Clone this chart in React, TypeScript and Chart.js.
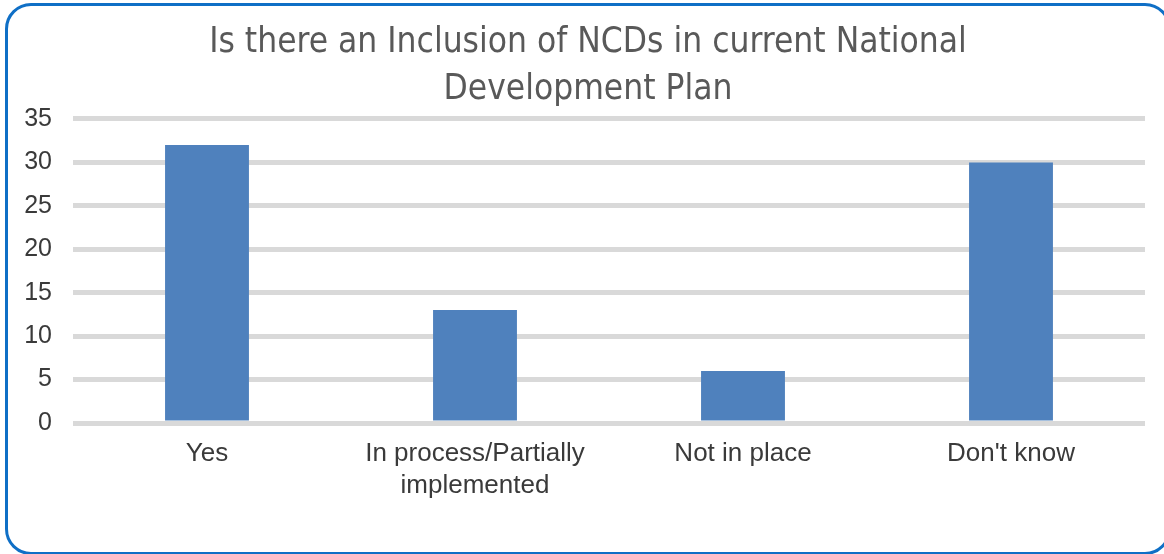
import React, { useEffect, useRef } from "react";
import { Chart, registerables } from "chart.js";

Chart.register(...registerables);

const titleLines = ["Is there an Inclusion of NCDs in current National", "Development Plan"];
const categories: (string | string[])[] = ["Yes", ["In process/Partially", "implemented"], "Not in place", "Don't know"];
const counts = [32, 13, 6, 30];
const yMin = 0;
const yMax = 35;
const yStep = 5;

export default function App() {
  const canvasRef = useRef<HTMLCanvasElement | null>(null);

  useEffect(() => {
    if (!canvasRef.current) return;
    const chart = new Chart(canvasRef.current, {
      type: "bar",
      data: {
        labels: categories,
        datasets: [
          {
            data: counts,
            backgroundColor: "#4F81BD",
            borderWidth: 0,
            categoryPercentage: 1,
            barPercentage: 0.313,
          },
        ],
      },
      options: {
        responsive: false,
        animation: false,
        devicePixelRatio: 1,
        layout: { padding: { left: 0, right: 24, top: 0, bottom: 0 } },
        plugins: {
          legend: { display: false },
          tooltip: { enabled: false },
          title: {
            display: true,
            text: titleLines,
            color: "#595959",
            font: { family: "'Liberation Sans Narrow', 'DejaVu Sans Condensed', Roboto, sans-serif", size: 35, weight: "normal", lineHeight: 47 / 35 },
            padding: { top: 19, bottom: 6 },
          },
        },
        scales: {
          x: {
            grid: { display: false, drawTicks: false },
            border: { display: false },
            ticks: {
              color: "#3a3a3a",
              font: { family: "'Liberation Sans', Arial, sans-serif", size: 26, lineHeight: 32 / 26 },
              padding: 15,
              maxRotation: 0,
              autoSkip: false,
            },
            afterFit: (scale: any) => {
              scale.height = 131;
            },
          },
          y: {
            min: yMin,
            max: yMax,
            grid: { color: "#D9D9D9", lineWidth: 5, drawTicks: false },
            border: { display: false },
            ticks: {
              stepSize: yStep,
              color: "#3a3a3a",
              font: { family: "'Liberation Sans', Arial, sans-serif", size: 25 },
              padding: 21,
            },
            afterFit: (scale: any) => {
              scale.width = 73;
            },
          },
          y2: {
            position: "right",
            min: yMin,
            max: yMax,
            grid: { display: false, drawTicks: false },
            border: { display: false },
            ticks: { display: false },
            afterFit: (scale: any) => {
              scale.width = 31;
            },
          },
        },
      },
    });
    return () => chart.destroy();
  }, []);

  return (
    <div style={{ position: "fixed", left: 0, top: 0, width: 1164, height: 554, background: "#fff", overflow: "hidden" }}>
      <div
        style={{
          position: "absolute",
          left: 5,
          top: 3,
          width: 1166,
          height: 552,
          border: "3px solid #0F6FC6",
          borderRadius: 26,
          boxSizing: "border-box",
        }}
      />
      <canvas ref={canvasRef} width={1200} height={554} style={{ position: "absolute", left: 0, top: 0, width: 1200, height: 554 }} />
    </div>
  );
}
